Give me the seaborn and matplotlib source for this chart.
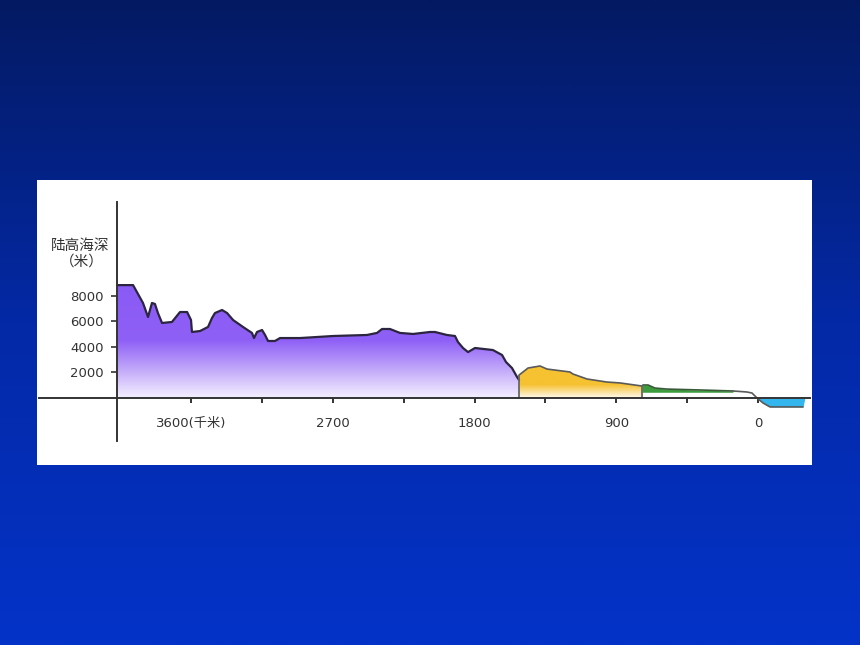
import numpy as np
import matplotlib
matplotlib.use("Agg")
import matplotlib.pyplot as plt
from matplotlib.colors import LinearSegmentedColormap
from matplotlib.patches import Polygon
import seaborn as sns

# distance from the coast (km) and height/depth (m)
tick_km = [3600, 2700, 1800, 900, 0]
tick_labels = ["3600(千米)", "2700", "1800", "900", "0"]
minor_km = [3150, 2250, 1350, 450]
height_ticks = [2000, 4000, 6000, 8000]

# first step (purple)
purple_km = [4070, 3968, 3905, 3873, 3848, 3829, 3810, 3784, 3721, 3670, 3625,
             3600, 3594, 3543, 3492, 3467, 3448, 3403, 3371, 3333, 3270, 3213,
             3200, 3181, 3149, 3130, 3111, 3067, 3035, 2908, 2698, 2483, 2419,
             2387, 2337, 2273, 2190, 2083, 2051, 1975, 1924, 1905, 1873, 1841,
             1797, 1683, 1625, 1600, 1562, 1530, 1517]
purple_m = [8850, 8850, 7450, 6350, 7450, 7370, 6660, 5880, 5960, 6740, 6740,
            6115, 5175, 5250, 5570, 6270, 6660, 6900, 6660, 6115, 5570, 5100,
            4700, 5175, 5330, 4940, 4470, 4470, 4700, 4700, 4860, 4940, 5100,
            5410, 5410, 5100, 5020, 5175, 5175, 4940, 4860, 4390, 3920, 3600,
            3920, 3760, 3370, 2820, 2350, 1650, 1410]

# second step (yellow)
yellow_km = [1517, 1492, 1460, 1384, 1340, 1194, 1175, 1086, 959, 876, 737]
yellow_m = [1800, 2040, 2350, 2510, 2270, 2040, 1880, 1490, 1250, 1180, 940]

# plain (green)
green_km = [737, 730, 698, 654, 578, 368, 159]
green_m = [940, 1020, 1020, 780, 700, 630, 550]
green_base = 450

# coast and shelf
coast_km = [159, 70, 38, 6, -32, -76, -286]
coast_m = [550, 470, 390, 0, -390, -700, -700]
sea_km = [6, -32, -76, -286, -298]
sea_m = [0, -390, -700, -700, 0]


def gradient_area(ax, km, m, colors, top):
    xs = np.r_[km[0], km, km[-1]]
    ys = np.r_[0, m, 0]
    patch = Polygon(np.column_stack([xs, ys]), closed=True, fc="none", ec="none")
    ax.add_patch(patch)
    cmap = LinearSegmentedColormap.from_list("g", colors)
    im = ax.imshow(np.linspace(0, 1, 256).reshape(-1, 1), cmap=cmap, origin="lower",
                   aspect="auto", extent=[max(km), min(km), 0, top], zorder=1)
    im.set_clip_path(patch)


sns.set_theme(style="ticks")
plt.rcParams["font.family"] = ["DejaVu Sans", "Noto Sans CJK SC"]

fig = plt.figure(figsize=(8.6, 6.45), dpi=100)

# slide background
bg = fig.add_axes([0, 0, 1, 1])
bg.axis("off")
bg_cmap = LinearSegmentedColormap.from_list("bg", ["#031a62", "#0429a6", "#0333c8"])
bg.imshow(np.linspace(0, 1, 512).reshape(-1, 1), cmap=bg_cmap, aspect="auto",
          extent=[0, 1, 0, 1], origin="upper")

ax = fig.add_axes([37 / 860, 180 / 645, 775 / 860, 285 / 645])
ax.set_facecolor("white")

gradient_area(ax, purple_km, purple_m,
              [(0, "#f4f0fe"), (0.5, "#8f60f6"), (1, "#8a5af5")], 9000)
gradient_area(ax, yellow_km, yellow_m,
              [(0, "#fefaf0"), (0.4, "#f6c231"), (1, "#f6c231")], 2600)
ax.fill_between(green_km, green_m, green_base, color="#3d9c3d", lw=0, zorder=1)
ax.fill_between(sea_km, sea_m, 0, color="#33b5ee", lw=0, zorder=1)

line_kw = dict(ax=ax, sort=False, estimator=None, zorder=3,
               solid_joinstyle="round")
sns.lineplot(x=purple_km, y=purple_m, color="#2b2540", lw=1.6, **line_kw)
sns.lineplot(x=yellow_km, y=yellow_m, color="#5a5a5a", lw=1.2, **line_kw)
sns.lineplot(x=green_km, y=green_m, color="#3a5a3a", lw=1.2, **line_kw)
sns.lineplot(x=coast_km, y=coast_m, color="#5a5a5a", lw=1.2, **line_kw)
ax.vlines([purple_km[-1], yellow_km[-1]], 0, [yellow_m[0], green_m[1]],
          colors="#666666", lw=1.3, zorder=3)

# cross-shaped axes
ax.spines[["top", "right"]].set_visible(False)
ax.spines["left"].set_position(("data", purple_km[0]))
ax.spines["bottom"].set_position(("data", 0))
ax.spines["left"].set_bounds(-3370, 15370)
ax.spines["bottom"].set_bounds(4565, -330)
for s in ["left", "bottom"]:
    ax.spines[s].set_color("#333333")
    ax.spines[s].set_linewidth(1.4)
    ax.spines[s].set_zorder(4)

ax.set_xticks(tick_km, tick_labels)
ax.set_xticks(minor_km, minor=True)
ax.set_yticks(height_ticks, [str(v) for v in height_ticks])
ax.tick_params(axis="x", which="both", direction="out", length=3.5, width=1.4,
               color="#333333", pad=10, labelsize=9.5, labelcolor="#333333")
ax.tick_params(axis="y", direction="out", length=4.5, width=1.2,
               color="#333333", pad=5, labelsize=9.5, labelcolor="#333333")

ax.text(0.0555, 0.772, "陆高海深", transform=ax.transAxes, ha="center",
        va="center", fontsize=10.5, color="#333333")
ax.text(0.058, 0.715, "（米）", transform=ax.transAxes, ha="center",
        va="center", fontsize=10.5, color="#333333")

ax.set_xlim(4578, -343)
ax.set_ylim(-5253, 17091)
ax.set_xlabel("")
ax.set_ylabel("")

fig.savefig("out.png", dpi=100)
